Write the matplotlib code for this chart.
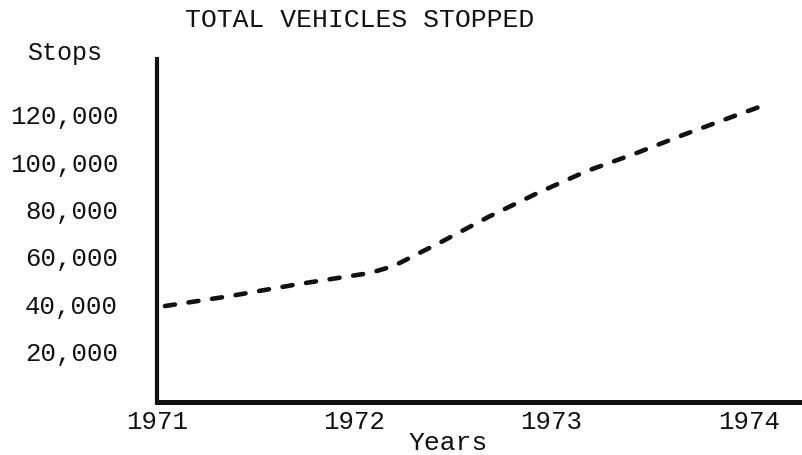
import matplotlib

matplotlib.use("Agg")
import matplotlib.pyplot as plt

# ---------- data ----------
years = [1971, 1972, 1973, 1974]
year_labels = ["1971", "1972", "1973", "1974"]
stop_ticks = [20000, 40000, 60000, 80000, 100000, 120000]
stop_labels = ["20,000", "40,000", "60,000", "80,000", "100,000", "120,000"]

# points along the hand-drawn dashed curve
curve_x = [1971.04, 1971.37, 1971.72, 1972.08, 1972.20, 1972.44, 1972.68,
           1972.94, 1973.18, 1973.42, 1973.68, 1973.94, 1974.06]
curve_y = [38800, 43000, 48100, 52750, 55700, 65800, 76400,
           86900, 95800, 103000, 111400, 119400, 123000]

INK = "#111111"
FONT = ["Liberation Mono", "DejaVu Sans Mono"]
plt.rcParams["font.family"] = FONT


def main():
    fig = plt.figure(figsize=(8.02, 4.56), dpi=100)
    ax = fig.add_axes([0.1958, 0.1162, 0.8042, 0.752])

    ax.plot(curve_x, curve_y, color=INK, lw=3.3,
            dashes=(2.2, 3.0), dash_capstyle="round", solid_capstyle="round")

    ax.set_xlim(1971.01, 1974.27)
    ax.set_ylim(-1700, 143000)

    for side in ("top", "right"):
        ax.spines[side].set_visible(False)
    ax.spines["left"].set_linewidth(3.0)
    ax.spines["bottom"].set_linewidth(3.6)
    ax.spines["left"].set_color(INK)
    ax.spines["bottom"].set_color(INK)

    ax.set_xticks(years)
    ax.set_xticklabels(year_labels)
    ax.set_yticks(stop_ticks)
    ax.set_yticklabels(stop_labels)
    ax.tick_params(axis="x", length=0, pad=5, labelsize=18.5, labelcolor=INK)
    ax.tick_params(axis="y", length=0, pad=28, labelsize=18.5, labelcolor=INK)

    fig.text(0.449, 0.956, "TOTAL VEHICLES STOPPED", ha="center", va="center",
             fontsize=19, color=INK)
    fig.text(0.080, 0.884, "Stops", ha="center", va="center",
             fontsize=18, color=INK)
    fig.text(0.559, 0.028, "Years", ha="center", va="center",
             fontsize=19, color=INK)

    fig.savefig("out.png", dpi=100, facecolor="white")
    plt.close(fig)


if __name__ == "__main__":
    main()
